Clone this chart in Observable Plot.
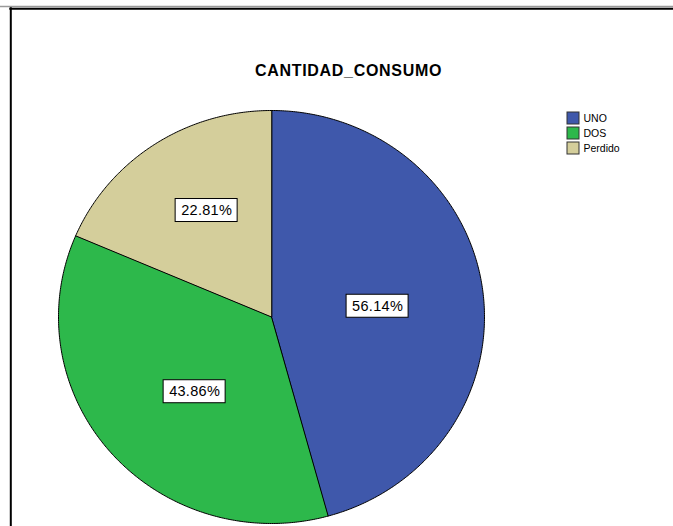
<!DOCTYPE html>
<html>
<head>
<meta charset="utf-8">
<script src="https://cdn.jsdelivr.net/npm/d3@7"></script>
<script src="https://cdn.jsdelivr.net/npm/@observablehq/plot@0.6"></script>
<style>
  html, body { margin: 0; padding: 0; background: #fff; }
  svg { display: block; }
</style>
</head>
<body>
<div id="chart"></div>
<script>
const title = "CANTIDAD_CONSUMO";
const categories = ["UNO", "DOS", "Perdido"];
const counts = [32, 25, 13];
const labels = ["56.14%", "43.86%", "22.81%"];
const colors = ["#3F58AB", "#2DB84B", "#D4CE9B"];

const W = 673, H = 526;
const cx = 271, cy = 316.5, rx = 213, ry = 206.5;

const pie = d3.pie().sort(null).value((d) => d.count);
const arcs = pie(categories.map((c, i) => ({cat: c, count: counts[i], label: labels[i]})));

const px = (a, k) => cx + rx * k * Math.sin(a);
const py = (a, k) => cy - ry * k * Math.cos(a);

// slice outlines
const slicePts = [];
for (const a of arcs) {
  slicePts.push({cat: a.data.cat, x: cx, y: cy});
  const n = Math.max(2, Math.ceil((a.endAngle - a.startAngle) / (Math.PI / 360)));
  for (let i = 0; i <= n; i++) {
    const t = a.startAngle + (a.endAngle - a.startAngle) * i / n;
    slicePts.push({cat: a.data.cat, x: px(t, 1), y: py(t, 1)});
  }
}

// label positions near sector centroid
const labelPts = arcs.map((a) => {
  const half = (a.endAngle - a.startAngle) / 2;
  const mid = a.startAngle + half;
  const k = 2 * Math.sin(half) / (3 * half);
  return {label: a.data.label, x: px(mid, k) + 9, y: py(mid, k) + 2};
});
const bw = 62, bh = 23;

const legend = categories.map((c, i) => ({cat: c, i}));
const lgX = 567, lgY = 118, lgStep = 15, sq = 12;

const spaced = (ls) => (index, scales, values, dims, context, next) => {
  const g = next(index, scales, values, dims, context);
  g.setAttribute("letter-spacing", ls);
  return g;
};

const chart = Plot.plot({
  width: W,
  height: H,
  margin: 0,
  style: {fontFamily: "'Liberation Sans', Arial, sans-serif", background: "#fff"},
  x: {domain: [0, W], range: [0, W], axis: null},
  y: {domain: [0, H], range: [0, H], axis: null},
  color: {domain: categories, range: colors},
  marks: [
    // frame lines
    Plot.ruleY([6], {x1: 0, x2: W, stroke: "#9a9a9a", strokeWidth: 1.5}),
    Plot.ruleY([8.3], {x1: 9.3, x2: W, stroke: "#000", strokeWidth: 2}),
    Plot.ruleX([10.3], {y1: 7.3, y2: H, stroke: "#000", strokeWidth: 2}),
    // title
    Plot.text([title], {x: 348, y: 70, text: (d) => d, fontSize: 16, fontWeight: "bold", fill: "#000", render: spaced(0.7)}),
    // pie
    Plot.line(slicePts, {x: "x", y: "y", z: "cat", fill: "cat", stroke: "#000", strokeWidth: 1, curve: "linear-closed", strokeLinejoin: "round"}),
    // label boxes
    Plot.rect(labelPts, {x1: (d) => d.x - bw / 2, x2: (d) => d.x + bw / 2, y1: (d) => d.y - bh / 2, y2: (d) => d.y + bh / 2, fill: "#fff", stroke: "#000", strokeWidth: 1}),
    Plot.text(labelPts, {x: "x", y: "y", text: "label", fontSize: 14.5, fill: "#000", render: spaced(0.3)}),
    // legend
    Plot.rect(legend, {x1: lgX, x2: lgX + sq, y1: (d) => lgY + d.i * lgStep - sq / 2, y2: (d) => lgY + d.i * lgStep + sq / 2, fill: "cat", stroke: "#333", strokeWidth: 1}),
    Plot.text(legend, {x: lgX + sq + 4, y: (d) => lgY + d.i * lgStep, text: "cat", textAnchor: "start", fontSize: 10.5, fill: "#000"})
  ]
});
document.getElementById("chart").appendChild(chart);
</script>
</body>
</html>
